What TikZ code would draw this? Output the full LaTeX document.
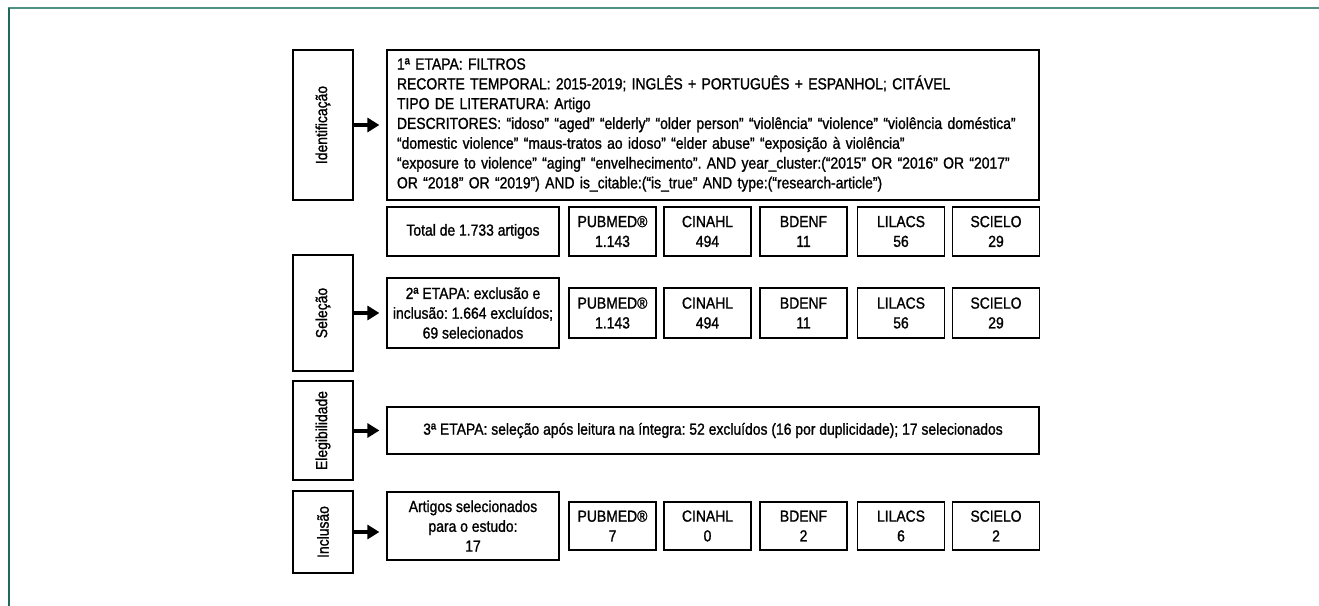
\documentclass[tikz,border=0pt]{standalone}
\usepackage{fontspec}
\setmainfont{Liberation Sans}[FakeStretch=0.87, FakeBold=1.2]
\usepackage{tikz}
\usetikzlibrary{arrows.meta}
\definecolor{frametop}{RGB}{80,145,133}
\definecolor{frameleft}{RGB}{30,105,95}
\newcommand{\figfont}{\fontsize{12}{14.85}\selectfont\frenchspacing}

\begin{document}
\begin{tikzpicture}[x=0.75pt, y=-0.75pt,
  stage/.style={rectangle, draw, line width=0.9pt, rotate=90, inner sep=0pt,
                minimum height=45pt, font=\figfont},
  box/.style={rectangle, draw, line width=0.9pt, inner sep=0pt, align=center,
              font=\figfont},
  base/.style={box, minimum width=65.25pt},
  arr/.style={line width=3pt, -{Triangle[length=9pt,width=10.5pt]},
              shorten >=5.25pt}]
  \useasboundingbox (0,0) rectangle (1319,606);
  \draw[frametop, line width=1.5pt] (8,8.5) -- (1319,8.5);
  \draw[frameleft, line width=1pt] (9,8) -- (9,606);
  % etapas
  \node[stage, minimum width=112.5pt] (n1) at (323,125) {Identificação};
  \node[stage, minimum width=87pt] (n2) at (323,313) {Seleção};
  \node[stage, minimum width=74.25pt] (n3) at (323,430.5) {Elegibilidade};
  \node[stage, minimum width=61.5pt] (n4) at (323,532) {Inclusão};
  % 1a etapa
  \node[box, align=left, text width=474pt, inner xsep=7.5pt,
        minimum height=112.5pt] (n5) at (713,125) {1ª ETAPA: FILTROS\\
    RECORTE TEMPORAL: 2015-2019; INGLÊS + PORTUGUÊS + ESPANHOL; CITÁVEL\\
    TIPO DE LITERATURA: Artigo\\
    DESCRITORES: “idoso” “aged” “elderly” “older person” “violência” “violence” “violência doméstica”\\
    “domestic violence” “maus-tratos ao idoso” “elder abuse” “exposição à violência”\\
    “exposure to violence” “aging” “envelhecimento”. AND year\_cluster:(“2015” OR “2016” OR “2017”\\
    OR “2018” OR “2019”) AND is\_citable:(“is\_true” AND type:(“research-article”)};
  \node[box, minimum width=129pt, minimum height=36.75pt] (n6) at (473,231.5) {Total de 1.733 artigos};
  \node[base, minimum height=36.75pt] (n7) at (612.5,231.5) {PUBMED®\\1.143};
  \node[base, minimum height=36.75pt] (n8) at (707.5,231.5) {CINAHL\\494};
  \node[base, minimum height=36.75pt] (n9) at (803.5,231.5) {BDENF\\11};
  \node[base, minimum height=36.75pt] (n10) at (901,231.5) {LILACS\\56};
  \node[base, minimum height=36.75pt] (n11) at (996,231.5) {SCIELO\\29};
  % 2a etapa
  \node[box, minimum width=129pt, minimum height=52.5pt] (n12) at (473,313)
    {2ª ETAPA: exclusão e\\inclusão: 1.664 excluídos;\\69 selecionados};
  \node[base, minimum height=37.5pt] (n13) at (612.5,313) {PUBMED®\\1.143};
  \node[base, minimum height=37.5pt] (n14) at (707.5,313) {CINAHL\\494};
  \node[base, minimum height=37.5pt] (n15) at (803.5,313) {BDENF\\11};
  \node[base, minimum height=37.5pt] (n16) at (901,313) {LILACS\\56};
  \node[base, minimum height=37.5pt] (n17) at (996,313) {SCIELO\\29};
  % 3a etapa
  \node[box, minimum width=489pt, minimum height=35.25pt] (n18) at (713,430.5)
    {3ª ETAPA: seleção após leitura na íntegra: 52 excluídos (16 por duplicidade); 17 selecionados};
  % inclusao
  \node[box, minimum width=129pt, minimum height=51pt] (n19) at (473,526)
    {Artigos selecionados\\para o estudo:\\17};
  \node[base, minimum height=36pt] (n20) at (612.5,526) {PUBMED®\\7};
  \node[base, minimum height=36pt] (n21) at (707.5,526) {CINAHL\\0};
  \node[base, minimum height=36pt] (n22) at (803.5,526) {BDENF\\2};
  \node[base, minimum height=36pt] (n23) at (901,526) {LILACS\\6};
  \node[base, minimum height=36pt] (n24) at (996,526) {SCIELO\\2};
  \draw[arr] (n1) -- (n1 -| n5.west);
  \draw[arr] (n2) -- (n2 -| n12.west);
  \draw[arr] (n3) -- (n3 -| n18.west);
  \draw[arr] (n4) -- (n4 -| n19.west);
\end{tikzpicture}
\end{document}
